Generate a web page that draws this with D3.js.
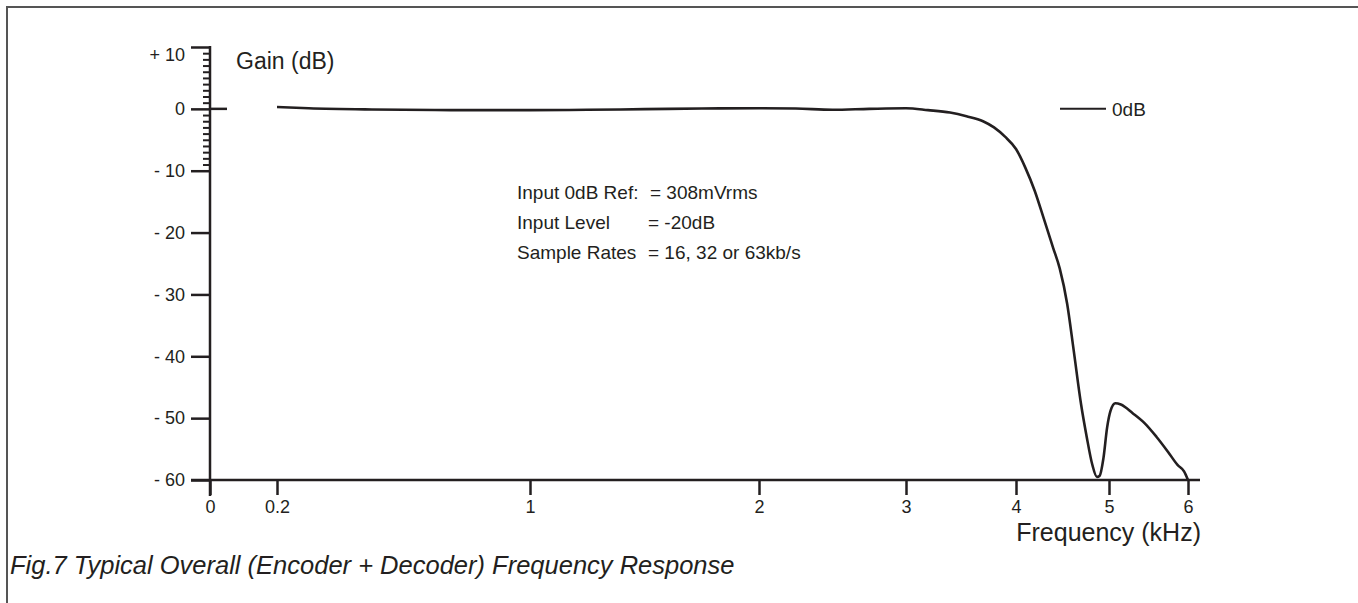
<!DOCTYPE html>
<html>
<head>
<meta charset="utf-8">
<script src="https://cdn.jsdelivr.net/npm/d3@7"></script>
<style>
  body { margin: 0; background: #fff; }
  svg { display: block; font-family: "Liberation Sans", Arial, sans-serif; }
</style>
</head>
<body>
<svg id="chart" width="1358" height="603"></svg>
<script>
// response curve
const freqKHz = [0.2, 0.3, 0.5, 0.75, 1, 1.25, 1.5, 1.75, 2, 2.25, 2.5, 2.75, 3, 3.2, 3.4, 3.55, 3.7, 3.8, 3.9,
                 4.0, 4.1, 4.2, 4.3, 4.4, 4.47, 4.55, 4.62, 4.7, 4.76, 4.82, 4.87, 4.9, 4.94, 4.98, 5.02, 5.08,
                 5.15, 5.3, 5.45, 5.6, 5.75, 5.87, 5.95, 6.0];
const gainDb  = [0.3, 0.1, -0.1, -0.2, -0.2, -0.15, -0.05, 0.05, 0.1, 0.05, -0.15, 0, 0.1, -0.2, -0.6, -1.2, -2.0, -3.0, -4.5,
                 -6.5, -9.5, -13.2, -17.8, -22.5, -25.8, -31.5, -39, -47.8, -53, -57.5, -59.5, -59.3, -56.5, -51.5, -48.8, -47.6,
                 -47.8, -49.2, -50.8, -53, -55.5, -57.6, -58.6, -60];

const xTicks = [0, 0.2, 1, 2, 3, 4, 5, 6];
const yTicks = [10, 0, -10, -20, -30, -40, -50, -60];
const yMinor = d3.range(-9, 10).filter(v => v !== 0);
const noteLabels = ["Input 0dB Ref:", "Input Level", "Sample Rates"];
const noteValues = ["= 308mVrms", "= -20dB", "= 16, 32 or 63kb/s"];
const legendLabel = "0dB";
const caption = "Fig.7 Typical Overall (Encoder + Decoder) Frequency Response";

const ink = "#231f20";
const svg = d3.select('#chart');

// frame
svg.append('path')
    .attr('d', 'M7,603 V7 H1358')
    .style('fill', 'none')
    .style('stroke', '#555')
    .style('stroke-width', 2);

// the frequency axis is stretched, not linear
const x = d3.scaleLinear()
    .domain(xTicks)
    .range([210, 277, 530, 759, 906, 1016, 1109, 1188]);
const y = d3.scaleLinear().domain([-60, 10]).range([480, 47]);

const fmtY = v => v > 0 ? `+ ${v}` : v < 0 ? `- ${-v}` : '0';

const gy = svg.append('g')
    .attr('transform', 'translate(210,0)')
    .call(d3.axisLeft(y).tickValues(yTicks).tickSize(19).tickPadding(6).tickFormat(fmtY));
gy.select('.domain').remove();
gy.selectAll('line').style('stroke', ink).style('stroke-width', 2.5);
gy.selectAll('text').style('font-size', '18px').style('fill', ink);
// top label sits a little below its tick
gy.selectAll('.tick text').filter(d => d === 10).attr('y', 8);

const gm = svg.append('g')
    .attr('transform', 'translate(210,0)')
    .call(d3.axisLeft(y).tickValues(yMinor).tickSize(7).tickFormat(''));
gm.select('.domain').remove();
gm.selectAll('line').style('stroke', ink).style('stroke-width', 2);

// zero line pokes through to the right
svg.append('line')
    .attr('x1', 210).attr('x2', 227)
    .attr('y1', y(0)).attr('y2', y(0))
    .style('stroke', ink).style('stroke-width', 2.5);

// vertical axis line
svg.append('line')
    .attr('x1', 210).attr('x2', 210)
    .attr('y1', 46).attr('y2', 496)
    .style('stroke', ink).style('stroke-width', 2.5);

const gx = svg.append('g')
    .attr('transform', 'translate(0,480)')
    .call(d3.axisBottom(x).tickValues(xTicks).tickSize(15).tickPadding(5).tickFormat(d => d));
gx.select('.domain').remove();
gx.selectAll('line').style('stroke', ink).style('stroke-width', 2.5);
gx.selectAll('text').style('font-size', '18px').style('fill', ink);

svg.append('line')
    .attr('x1', 191).attr('x2', 1200)
    .attr('y1', 480).attr('y2', 480)
    .style('stroke', ink).style('stroke-width', 2.5);

// axis titles
svg.append('text')
    .attr('x', 236).attr('y', 69)
    .style('font-size', '23px').style('fill', ink)
    .text('Gain (dB)');
svg.append('text')
    .attr('x', 1201).attr('y', 541)
    .attr('text-anchor', 'end')
    .style('font-size', '25px').style('fill', ink)
    .text('Frequency (kHz)');

// the curve
const line = d3.line()
    .x(d => x(d[0]))
    .y(d => y(d[1]))
    .curve(d3.curveMonotoneX);
svg.append('path')
    .datum(d3.zip(freqKHz, gainDb))
    .attr('d', line)
    .style('fill', 'none')
    .style('stroke', ink)
    .style('stroke-width', 2.6)
    .style('stroke-linejoin', 'round');

// legend
svg.append('line')
    .attr('x1', 1060).attr('x2', 1106)
    .attr('y1', y(0)).attr('y2', y(0))
    .style('stroke', ink).style('stroke-width', 2);
svg.append('text')
    .attr('x', 1112).attr('y', y(0))
    .attr('dy', '0.36em')
    .style('font-size', '19px').style('fill', ink)
    .text(legendLabel);

// test conditions note
const valueX = [650, 648, 648];
const notes = svg.append('g').style('font-size', '19px').style('fill', ink);
noteLabels.forEach((t, i) => {
    notes.append('text').attr('x', 517).attr('y', 199 + i * 30).text(t);
    notes.append('text').attr('x', valueX[i]).attr('y', 199 + i * 30).text(noteValues[i]);
});

svg.append('text')
    .attr('x', 10).attr('y', 574)
    .style('font-size', '25.5px')
    .style('font-style', 'italic')
    .style('fill', ink)
    .text(caption);
</script>
</body>
</html>
